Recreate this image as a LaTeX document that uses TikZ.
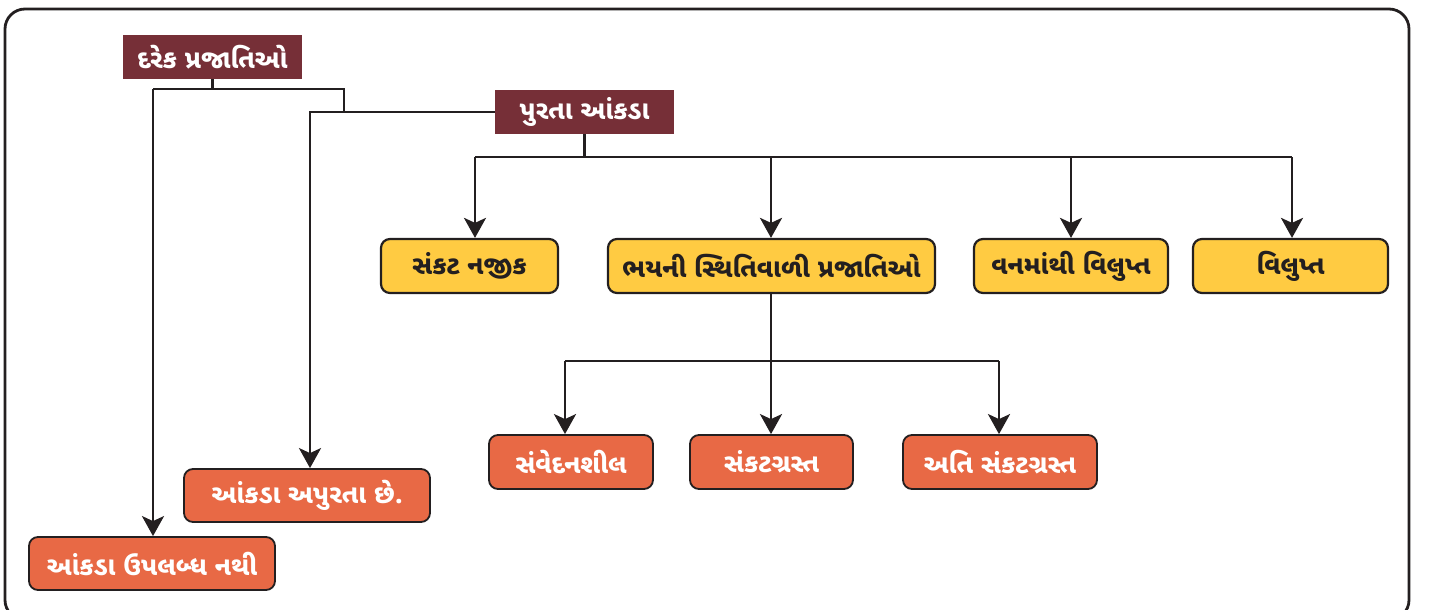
\documentclass[tikz,border=0pt]{standalone}
\usepackage{fontspec}
\newfontfamily\guj[Script=Gujarati]{Noto Sans Gujarati UI}
\usetikzlibrary{arrows.meta}
\definecolor{maroon}{HTML}{762F37}
\definecolor{ybox}{HTML}{FFCB42}
\definecolor{obox}{HTML}{E86945}
\definecolor{ink}{HTML}{231F20}
\tikzset{
  ln/.style={draw=ink, line width=2.8pt},
  arr/.style={ln, -{Stealth[length=20pt,width=22pt,inset=5pt]}},
  head/.style={fill=maroon, text=white, font=\guj\bfseries\fontsize{26}{30}\selectfont, minimum height=44pt, inner sep=0pt},
  ybx/.style={fill=ybox, draw=ink, line width=2.2pt, rounded corners=9pt, text=ink, font=\guj\bfseries\fontsize{26}{30}\selectfont, minimum height=54pt, inner sep=0pt},
  obx/.style={fill=obox, draw=ink, line width=1.8pt, rounded corners=9pt, text=white, font=\guj\bfseries\fontsize{26}{30}\selectfont, minimum height=54pt, inner sep=0pt},
}
\begin{document}
\begin{tikzpicture}[x=1pt,y=-1pt]
\useasboundingbox (0,0) rectangle (1432,610);
\draw[draw=ink, line width=2.8pt, rounded corners=20pt] (5,9) rectangle (1409,620);
% nodes
\node[head, minimum width=179pt] (dare) at (212.5,57) {દરેક પ્રજાતિઓ};
\node[head, minimum width=179pt] (purta) at (584.5,112) {પુરતા આંકડા};
\node[ybx, minimum width=177pt] (najik) at (469.5,266) {સંકટ નજીક};
\node[ybx, minimum width=327pt] (bhay) at (771.5,266) {ભયની સ્થિતિવાળી પ્રજાતિઓ};
\node[ybx, minimum width=194pt] (van) at (1071,266) {વનમાંથી વિલુપ્ત};
\node[ybx, minimum width=195pt] (vil) at (1290.5,266) {વિલુપ્ત};
\node[obx, minimum width=164pt] (samv) at (571,462) {સંવેદનશીલ};
\node[obx, minimum width=163pt] (sankg) at (771.5,462) {સંકટગ્રસ્ત};
\node[obx, minimum width=194pt] (ati) at (1000,462) {અતિ સંકટગ્રસ્ત};
\node[obx, minimum width=246pt, minimum height=53pt] (apur) at (307,495.5) {આંકડા અપુરતા છે.};
\node[obx, minimum width=246pt, minimum height=53pt] (upl) at (152,563.5) {આંકડા ઉપલબ્ધ નથી};
% left connectors
\coordinate (hL) at (153,89);
\coordinate (hR) at (344,89);
\coordinate (hR2) at (344,112);
\coordinate (pL) at (310,112);
\draw[ln] (dare.south) -- (dare.south |- hL);
\draw[ln] (hL) -- (hR) -- (hR2);
\draw[arr] (hL) -- (hL |- upl.north);
\draw[arr] (purta.west) -- (pL) -- (pL |- apur.north);
% top bus
\coordinate (b1) at (475,157);
\coordinate (b2) at (771,157);
\coordinate (b3) at (1071,157);
\coordinate (b4) at (1292,157);
\draw[ln] (purta.south) -- (purta.south |- b1);
\draw[ln] (b1) -- (b4);
\draw[arr] (b1) -- (b1 |- najik.north);
\draw[arr] (b2) -- (b2 |- bhay.north);
\draw[arr] (b3) -- (b3 |- van.north);
\draw[arr] (b4) -- (b4 |- vil.north);
% lower bus
\coordinate (c1) at (565,361);
\coordinate (c2) at (771,361);
\coordinate (c3) at (999,361);
\draw[ln] (bhay.south -| c2) -- (c2);
\draw[ln] (c1) -- (c3);
\draw[arr] (c1) -- (c1 |- samv.north);
\draw[arr] (c2) -- (c2 |- sankg.north);
\draw[arr] (c3) -- (c3 |- ati.north);
\end{tikzpicture}
\end{document}
